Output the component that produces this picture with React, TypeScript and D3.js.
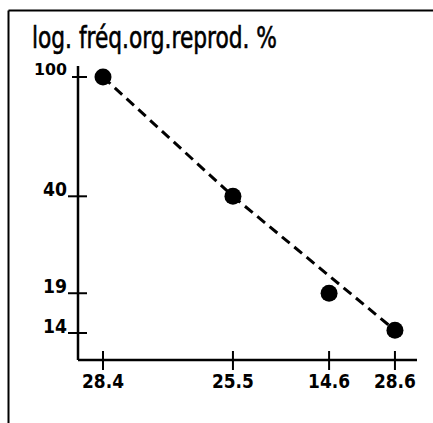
import React from "react";
import * as d3 from "d3";

const xLabels = ["28.4", "25.5", "14.6", "28.6"];
const xOrder = [0, 4.42, 7.69, 9.93];
const freqValues = [100, 40, 19, 14.3];
const trendIdx = [0, 1, 3];
const yTicks = [100, 40, 19, 14];
const title = "log. fréq.org.reprod. %";

export default function App() {
  const W = 433, H = 423;
  const x = d3.scaleLinear().domain([0, 10]).range([103, 397]);
  const y = d3.scaleLog().domain([14, 100]).range([333, 77]);
  const axisX = 78, axisY = 360;
  const pts = freqValues.map((v, i) => [x(xOrder[i]), y(v)] as [number, number]);
  const line = d3.line();
  const trend = trendIdx.map((i) => pts[i]);
  const font = "'DejaVu Sans Condensed', 'DejaVu Sans', sans-serif";
  return (
    <svg width={W} height={H} style={{ position: "absolute", left: 0, top: 0, background: "#fff" }}>
      <rect x={0} y={0} width={W} height={H} fill="#fff" />
      {/* frame */}
      <line x1={8.5} y1={10.5} x2={W} y2={10.5} stroke="#000" strokeWidth={2} />
      <line x1={8.5} y1={10.5} x2={8.5} y2={H} stroke="#000" strokeWidth={2} />
      {/* title */}
      <text x={32} y={48} fontFamily={font} fontSize={31} textLength={245} lengthAdjust="spacingAndGlyphs"
        fill="#000" stroke="#000" strokeWidth={0.6}>{title}</text>
      {/* axes */}
      <line x1={axisX} y1={66} x2={axisX} y2={axisY} stroke="#000" strokeWidth={2.5} />
      <line x1={axisX} y1={axisY} x2={417} y2={axisY} stroke="#000" strokeWidth={2.5} />
      {yTicks.map((t, i) => {
        const yy = y(t);
        const small = t === 100;
        return (
          <g key={"yt" + i}>
            <line x1={small ? 72 : 68} y1={yy} x2={87} y2={yy} stroke="#000" strokeWidth={2} />
            <text x={67} y={small ? yy - 2 : yy} textAnchor="end" fontFamily={font} fontWeight="bold" fontSize={small ? 15 : 19}
              textLength={small ? 33 : 24} lengthAdjust="spacingAndGlyphs" fill="#000">{t}</text>
          </g>
        );
      })}
      {xLabels.map((l, i) => {
        const xx = x(xOrder[i]);
        return (
          <g key={"xt" + i}>
            <line x1={xx} y1={351} x2={xx} y2={370} stroke="#000" strokeWidth={2} />
            <text x={xx} y={388} textAnchor="middle" fontFamily={font} fontWeight="bold" fontSize={19}
              textLength={42} lengthAdjust="spacingAndGlyphs" fill="#000">{l}</text>
          </g>
        );
      })}
      <path d={line(trend) || ""} fill="none" stroke="#000" strokeWidth={3} strokeDasharray="10,6" />
      {pts.map((p, i) => (
        <circle key={"p" + i} cx={p[0]} cy={p[1]} r={8.5} fill="#000" />
      ))}
    </svg>
  );
}
